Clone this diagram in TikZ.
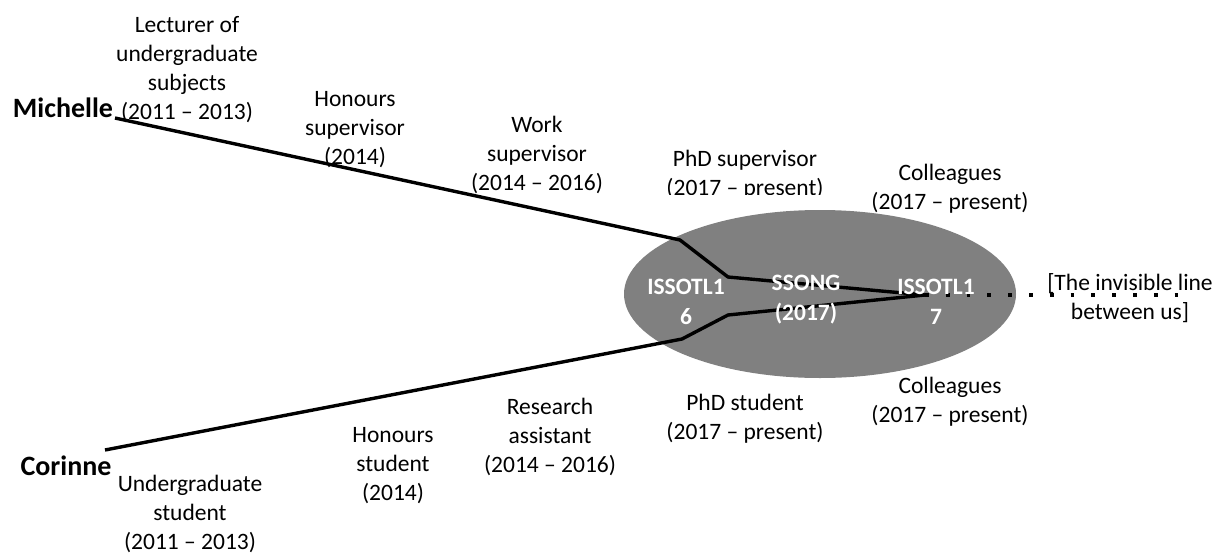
\documentclass[tikz,border=0pt]{standalone}
\usepackage{fontspec}
\setmainfont{Carlito}
\usetikzlibrary{shapes}
\begin{document}
\begin{tikzpicture}[x=1pt,y=-1pt,line width=3.4pt]
  \tikzstyle{every node}=[align=center,inner sep=0pt,font=\fontsize{23.5}{29}\selectfont]
  \tikzstyle{person}=[font=\fontsize{28}{32}\selectfont\bfseries]
  \tikzstyle{event}=[text=white,font=\fontsize{23.5}{30}\selectfont\bfseries]
  \tikzstyle{invisible}=[line width=3.8pt,dash pattern=on 3.8pt off 17pt]
  \useasboundingbox (0,0) rectangle (1217,554);

  \node[ellipse,fill=gray,minimum width=392pt,minimum height=168pt] (meet) at (820,294) {};

  \node[person] (M) at (63,108) {Michelle};
  \node[person] (C) at (66,466) {Corinne};

  % Michelle's side
  \node (lect)  at (187,70)  {Lecturer of\\undergraduate\\subjects\\(2011 -- 2013)};
  \node (hsup)  at (355,130) {Honours\\supervisor\\(2014)};
  \node (wsup)  at (537,155) {Work\\supervisor\\(2014 -- 2016)};
  \begin{scope}
    \clip (600,140) rectangle (900,194);
    \node (psup) at (745,175) {PhD supervisor\\(2017 -- present)};
  \end{scope}
  \node (colA)  at (950,189) {Colleagues\\(2017 -- present)};

  % Corinne's side
  \node (ugrad) at (190,514) {Undergraduate\\student\\(2011 -- 2013)};
  \node (hstud) at (393,466) {Honours\\student\\(2014)};
  \node (rassi) at (550,437) {Research\\assistant\\(2014 -- 2016)};
  \node (pstud) at (745,419) {PhD student\\(2017 -- present)};
  \node (colB)  at (950,402) {Colleagues\\(2017 -- present)};

  \node (line)  at (1130,298) {[The invisible line\\between us]};

  \coordinate (m0) at (115,118);
  \coordinate (m1) at (680,240);
  \coordinate (m2) at (728,277);
  \coordinate (c0) at (105,450);
  \coordinate (c1) at (682,339);
  \coordinate (c2) at (728,315);
  \coordinate (x)  at (925,295);
  \coordinate (end) at (1195,295);

  \draw (m0) -- (m1) -- (m2) -- (x);
  \draw (c0) -- (c1) -- (c2) -- (x);
  \draw[invisible] (x) -- (end);

  \node[event] (iss6) at (686,302) {ISSOTL1\\6};
  \node[event] (song) at (806,300) {SSONG\\(2017)};
  \node[event] (iss7) at (936,302) {ISSOTL1\\7};
\end{tikzpicture}
\end{document}
